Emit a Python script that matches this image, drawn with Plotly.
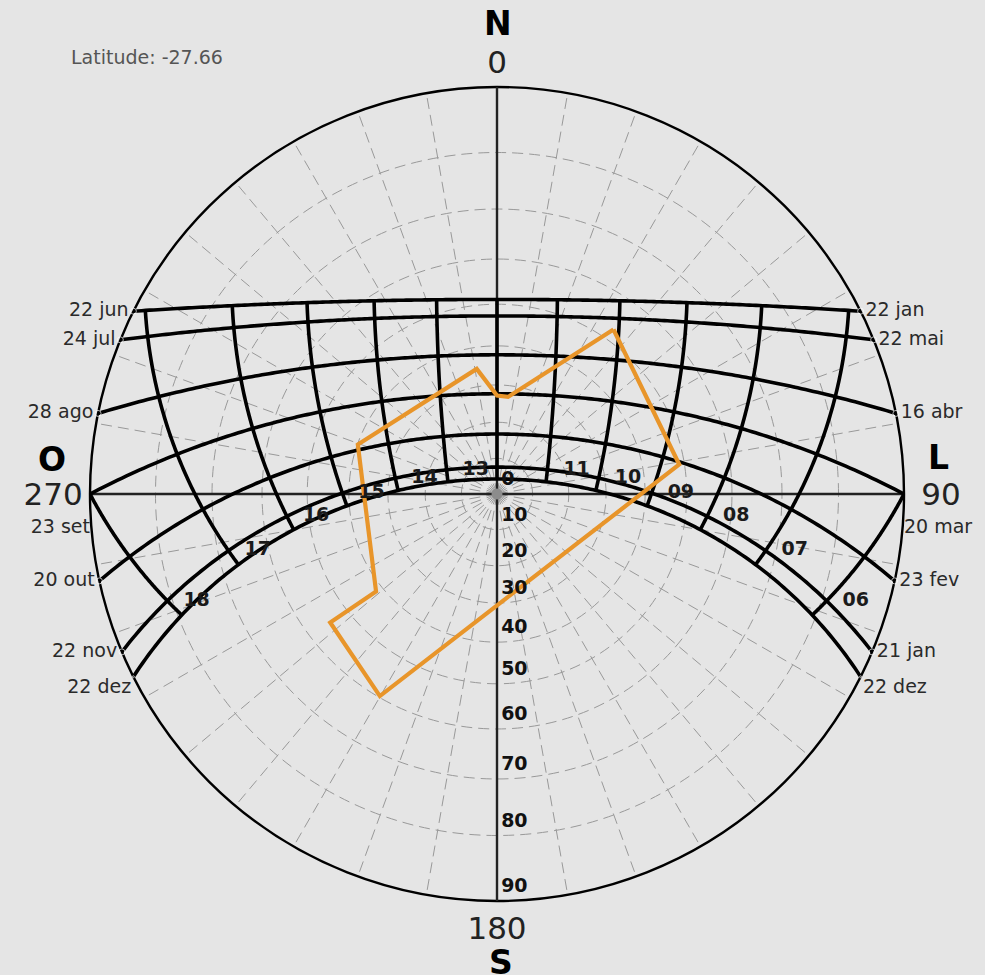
import numpy as np
import plotly.graph_objects as go

# ---- site ----
LATITUDE = -27.66

# ---- sun-path date lines: label at sunset end (west), label at sunrise end (east), declination (deg)
DATE_WEST = ["22 jun", "24 jul", "28 ago", "23 set", "20 out", "22 nov", "22 dez"]
DATE_EAST = ["22 jan", "22 mai", "16 abr", "20 mar", "23 fev", "21 jan", "22 dez"]
DECLINATION = [23.44, 19.6, 10.1, 0.0, -10.9, -20.1, -23.44]

# ---- hour lines (solar time) and their labels
HOURS = [6, 7, 8, 9, 10, 11, 12, 13, 14, 15, 16, 17, 18]
HOUR_TEXT = ["06", "07", "08", "09", "10", "11", "", "13", "14", "15", "16", "17", "18"]
HOUR_LABEL_DECL = -20.1

# ---- zenith-angle rings (deg)
ZENITH_TICKS = [0, 10, 20, 30, 40, 50, 60, 70, 80, 90]

# ---- azimuth labels
AZIMUTH_TICKS = [0, 90, 180, 270]
AZIMUTH_TEXT = ["0", " 90", "180", "270"]
COMPASS = ["N", "L", "S", "O"]

# ---- obstruction outline (azimuth deg from N, zenith deg)
MASK_AZIMUTH = [35.3, 80.8, 210.1, 232.4, 231.1, 289.6, 350.8, 0.0, 6.5, 35.3]
MASK_ZENITH = [52.7, 48.8, 59.7, 54.7, 41.8, 39.9, 34.6, 27.2, 27.0, 52.7]

BG = "#e5e5e5"
FONT = "DejaVu Sans, Verdana, sans-serif"
ORANGE = "#e8952a"

# figure geometry (pixels)
W, H = 985, 975
CX, CY, R = 497, 494, 407


def stereo(zenith_deg):
    """Stereographic radius for a zenith angle (horizon -> 1)."""
    return np.tan(np.radians(np.asarray(zenith_deg, dtype=float)) / 2.0)


def sun_position(dec_deg, hour_angle_deg):
    phi = np.radians(LATITUDE)
    d = np.radians(dec_deg)
    h = np.radians(hour_angle_deg)
    sin_alt = np.sin(phi) * np.sin(d) + np.cos(phi) * np.cos(d) * np.cos(h)
    alt = np.degrees(np.arcsin(np.clip(sin_alt, -1, 1)))
    az = np.degrees(np.arctan2(-np.cos(d) * np.sin(h),
                               np.sin(d) * np.cos(phi) - np.cos(d) * np.sin(phi) * np.cos(h)))
    return np.mod(az, 360.0), 90.0 - alt


fig = go.Figure()

# meridian and east-west line
fig.add_trace(go.Scatterpolar(r=[1, 0, 1], theta=[0, 0, 180], mode="lines",
                              line=dict(color="#222", width=2.4), hoverinfo="skip"))
fig.add_trace(go.Scatterpolar(r=[1, 0, 1], theta=[90, 90, 270], mode="lines",
                              line=dict(color="#222", width=2.4), hoverinfo="skip"))

# zenith point
fig.add_trace(go.Scatterpolar(r=[0], theta=[0], mode="markers",
                              marker=dict(size=11, color="#8c8c8c"), hoverinfo="skip"))

# date lines, sunrise to sunset
west_pts, east_pts = [], []
for dec in DECLINATION:
    phi = np.radians(LATITUDE)
    h0 = np.degrees(np.arccos(np.clip(-np.tan(phi) * np.tan(np.radians(dec)), -1, 1)))
    ha = np.linspace(-h0, h0, 241)
    az, zen = sun_position(dec, ha)
    zen = np.minimum(zen, 90.0)
    fig.add_trace(go.Scatterpolar(r=stereo(zen), theta=az, mode="lines",
                                  line=dict(color="black", width=3.6), hoverinfo="skip"))
    east_pts.append(az[0])
    west_pts.append(az[-1])

# hour lines, from the June line down to the December line (above horizon only)
dmin, dmax = min(DECLINATION), max(DECLINATION)
for hr in HOURS:
    ha = 15.0 * (hr - 12)
    cosh = np.cos(np.radians(ha))
    top = dmax
    if cosh < 0.5:
        cross = np.degrees(np.arctan(-cosh / np.tan(np.radians(LATITUDE))))
        top = min(dmax, cross)
    decs = np.linspace(dmin, top, 121)
    az, zen = sun_position(decs, ha)
    zen = np.minimum(zen, 90.0)
    fig.add_trace(go.Scatterpolar(r=stereo(zen), theta=az, mode="lines",
                                  line=dict(color="black", width=3.6), hoverinfo="skip"))

# obstruction outline
fig.add_trace(go.Scatterpolar(r=stereo(MASK_ZENITH), theta=MASK_AZIMUTH, mode="lines",
                              line=dict(color=ORANGE, width=4.2), hoverinfo="skip"))

# hour labels along the November/January line
lab_hours = [h for h, t in zip(HOURS, HOUR_TEXT) if t]
lab_text = [t for t in HOUR_TEXT if t]
haz, hzen = sun_position(HOUR_LABEL_DECL, 15.0 * (np.array(lab_hours) - 12))
fig.add_trace(go.Scatterpolar(r=stereo(hzen), theta=haz, mode="markers+text", text=lab_text,
                              textposition="middle right",
                              marker=dict(size=24, color="rgba(0,0,0,0)"),
                              textfont=dict(family=FONT, size=19, color="#1a1a1a", weight="bold"),
                              cliponaxis=False, hoverinfo="skip"))

# zenith-angle labels down the south axis
fig.add_trace(go.Scatterpolar(r=stereo(ZENITH_TICKS), theta=[180] * len(ZENITH_TICKS),
                              mode="markers+text", text=[str(z) for z in ZENITH_TICKS],
                              textposition="top right",
                              marker=dict(size=5, color="rgba(0,0,0,0)"),
                              textfont=dict(family=FONT, size=19, color="#111", weight="bold"),
                              cliponaxis=False, hoverinfo="skip"))

# date labels at both horizon ends
def end_label_style(dec, side):
    if dec == 0.0:
        return "bottom " + side, 0, "<br>"
    if dec == min(DECLINATION):
        return "bottom " + side, 2, ""
    return "middle " + side, 6, ""

for names, thetas, side in ((DATE_WEST, west_pts, "left"), (DATE_EAST, east_pts, "right")):
    styles = [end_label_style(d, side) for d in DECLINATION]
    fig.add_trace(go.Scatterpolar(r=[1.0] * len(names), theta=thetas, mode="markers+text",
                                  text=[s[2] + n for s, n in zip(styles, names)],
                                  textposition=[s[0] for s in styles],
                                  marker=dict(size=[s[1] for s in styles], color="rgba(0,0,0,0)"),
                                  textfont=dict(family=FONT, size=19, color="#2a2a2a"),
                                  cliponaxis=False, hoverinfo="skip"))

grid = dict(showgrid=True, gridcolor="#999999", gridwidth=1.2, griddash="11px,6px",
            layer="below traces")

angle_vals = list(range(0, 360, 10))
angle_text = [AZIMUTH_TEXT[AZIMUTH_TICKS.index(a)] if a in AZIMUTH_TICKS else "" for a in angle_vals]

fig.update_layout(
    width=W, height=H,
    margin=dict(l=0, r=0, t=0, b=0),
    paper_bgcolor=BG, plot_bgcolor=BG,
    showlegend=False,
    polar=dict(
        domain=dict(x=[(CX - R) / W, (CX + R) / W], y=[(H - CY - R) / H, (H - CY + R) / H]),
        bgcolor=BG,
        angularaxis=dict(direction="clockwise", rotation=90,
                         tickmode="array", tickvals=angle_vals, ticktext=angle_text,
                         ticks="", showline=True, linecolor="black", linewidth=2.4,
                         tickfont=dict(family=FONT, size=31, color="#222"),
                         **grid),
        radialaxis=dict(range=[0, 1], tickmode="array",
                        tickvals=list(stereo(ZENITH_TICKS[1:-1])),
                        showticklabels=False, ticks="", showline=False, **grid),
    ),
)

# compass letters just outside the azimuth numbers
compass_xy = [(CX + 1, CY - R - 63), (CX + R + 34, CY - 37), (CX + 4, CY + R + 61), (CX - R - 38, CY - 35)]
for letter, (px, py) in zip(COMPASS, compass_xy):
    fig.add_annotation(x=px / W, y=1 - py / H, xref="paper", yref="paper", text=letter,
                       showarrow=False, xanchor="center", yanchor="middle",
                       font=dict(family=FONT, size=33, color="black", weight="bold"))

fig.add_annotation(x=69 / W, y=1 - 57 / H, xref="paper", yref="paper",
                   text=f"Latitude: {LATITUDE}", showarrow=False,
                   xanchor="left", yanchor="middle",
                   font=dict(family=FONT, size=19, color="#555"))

fig.write_html("out.html")
